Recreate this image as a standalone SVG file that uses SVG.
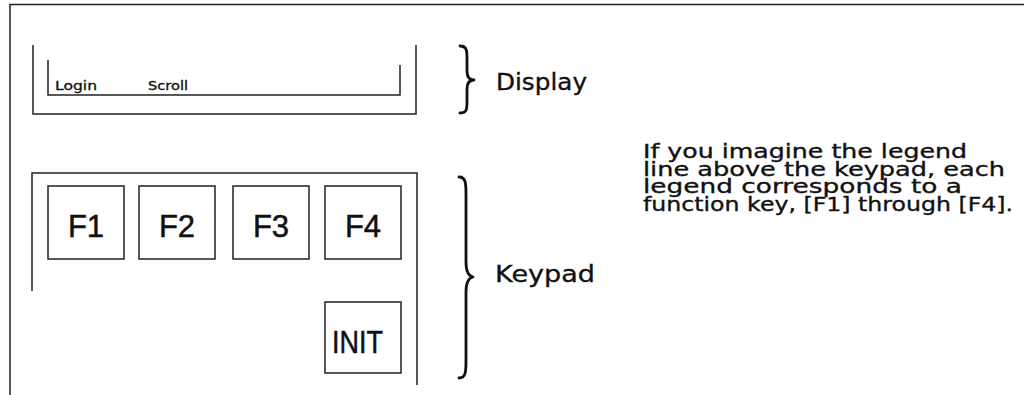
<svg xmlns="http://www.w3.org/2000/svg" width="1024" height="395" viewBox="0 0 1024 395">
<style>
.ln{fill:none;stroke:#222;stroke-width:1.5}
.key{fill:#fff;stroke:#222;stroke-width:1.5}
.br{fill:none;stroke:#111;stroke-width:2.8;stroke-linecap:round;stroke-linejoin:round}
.t{font-family:"DejaVu Sans","Liberation Sans",sans-serif;fill:#111;stroke:#111;stroke-width:0.35}
.k{font-family:"Liberation Sans",Arial,sans-serif;fill:#111;stroke:#111;stroke-width:0.5;font-size:31px;text-anchor:middle}
</style>
<rect width="1024" height="395" fill="#fff"/>
<g id="frame">
<path class="ln" d="M10,395 V4.5 H1024" stroke-width="2"/>
</g>
<g id="display">
<path class="ln" d="M33,45 V114 H416 V45"/>
<path class="ln" d="M48,60 V95 H400 V65"/>
<text class="t" x="55" y="90" font-size="13" textLength="42" lengthAdjust="spacingAndGlyphs">Login</text>
<text class="t" x="148" y="90" font-size="13" textLength="40" lengthAdjust="spacingAndGlyphs">Scroll</text>
</g>
<g id="keypad">
<path class="ln" d="M32,291 V173 H417 V385"/>
</g>
<g id="key-f1"><rect class="key" x="48" y="186" width="76" height="73"/><text class="k" x="86" y="237">F1</text></g>
<g id="key-f2"><rect class="key" x="139" y="186" width="76" height="73"/><text class="k" x="177" y="237">F2</text></g>
<g id="key-f3"><rect class="key" x="233" y="186" width="76" height="73"/><text class="k" x="271" y="237">F3</text></g>
<g id="key-f4"><rect class="key" x="325" y="186" width="76" height="73"/><text class="k" x="363" y="237">F4</text></g>
<g id="key-init"><rect class="key" x="325" y="302" width="76" height="71"/><text class="k" x="357.5" y="353" font-size="32" textLength="51" lengthAdjust="spacingAndGlyphs">INIT</text></g>
<g id="connectors">
<path class="br" d="M460,46 C467,46 467,51 467,59 L467,71 C467,77 469,80 474,80 C469,80 467,83 467,89 L467,101 C467,109 467,113 460,113"/>
<path class="br" d="M459,177 C466,177 466,184 466,195 L466,262 C466,271 468,276 473,277 C468,278 466,283 466,292 L466,360 C466,371 466,378 459,378"/>
</g>
<g id="labels">
<text class="t" x="496" y="90" font-size="23" textLength="91" lengthAdjust="spacingAndGlyphs">Display</text>
<text class="t" x="495" y="282" font-size="23" textLength="100" lengthAdjust="spacingAndGlyphs">Keypad</text>
</g>
<g id="note" class="t" font-size="20">
<text x="643" y="158" textLength="324" lengthAdjust="spacingAndGlyphs">If you imagine the legend</text>
<text x="643" y="175.5" textLength="362" lengthAdjust="spacingAndGlyphs">line above the keypad, each</text>
<text x="643" y="193" textLength="319" lengthAdjust="spacingAndGlyphs">legend corresponds to a</text>
<text x="643" y="210.5" textLength="370" lengthAdjust="spacingAndGlyphs">function key, [F1] through [F4].</text>
</g>
</svg>
